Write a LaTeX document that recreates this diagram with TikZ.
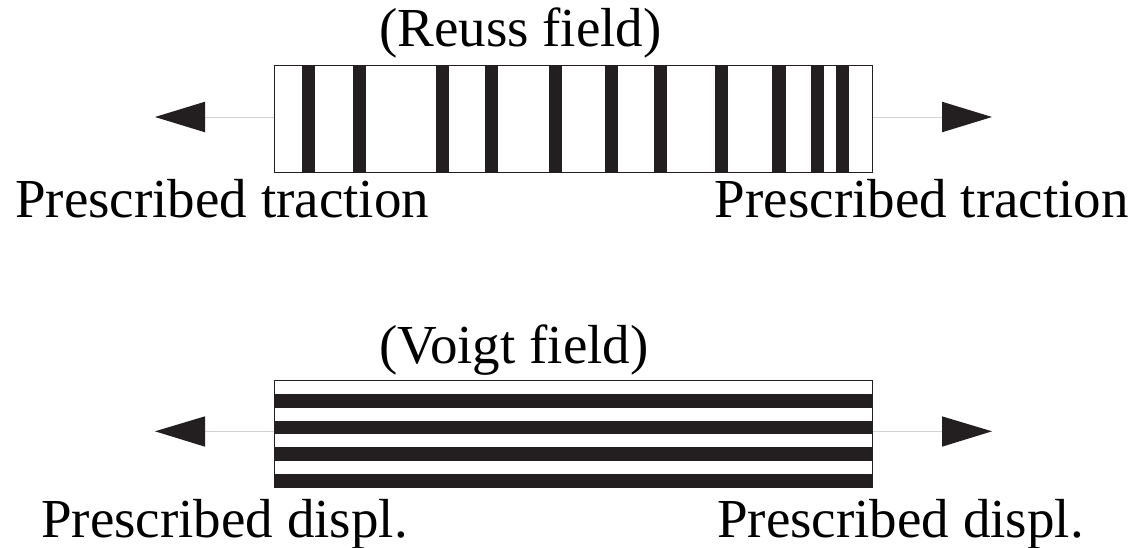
\documentclass[tikz,border=0pt]{standalone}
\usepackage{fontspec}
\setmainfont{Liberation Serif}
\definecolor{ink}{HTML}{231F20}
\definecolor{lightline}{HTML}{D2D2D2}
\begin{document}
\begin{tikzpicture}[x=1pt,y=-1pt,
  lab/.style={font=\fontsize{55}{60}\selectfont, inner sep=0pt},
  bar/.style={fill=ink, draw=none},
  frame/.style={draw=ink, line width=1.2pt, inner sep=0pt, minimum width=598.4pt, minimum height=106.6pt},
  link/.style={draw=lightline, line width=0.8pt},
  head/.style={fill=ink, draw=none}]
\useasboundingbox (0,0) rectangle (1135,547);
% ---------- Reuss ----------
\foreach \a/\b in {301.7/315, 352.7/366, 436/449.3, 485/498.3, 549/562.3, 605/618.3, 654/667.3, 715/728.3, 772.3/785.7, 811/824.3, 836/849.3}
  \path[bar] (\a,66) rectangle (\b,172.3);
\node[frame] (reuss) at (573.5,119.15) {};
\coordinate (rl) at (205,117);
\coordinate (rr) at (942,117);
\draw[link] (reuss.west |- rl) -- (rl);
\draw[link] (reuss.east |- rr) -- (rr);
\path[head] (155,117) -- (205,101.7) -- (205,132.3) -- cycle;
\path[head] (992,117) -- (942,101.7) -- (942,132.3) -- cycle;
\node[lab, anchor=base west] (rt) at (379,46.7) {(Reuss field)};
\node[lab, anchor=base west] (rtl) at (15,217) {Prescribed traction};
\node[lab, anchor=base east] (rtr) at (1129,217) {Prescribed traction};
% ---------- Voigt ----------
\foreach \a/\b in {394.3/407.7, 421/434.3, 447.3/460.7, 474/487.3}
  \path[bar] (274.3,\a) rectangle (872.7,\b);
\node[frame] (voigt) at (573.5,434) {};
\coordinate (vl) at (205,431.3);
\coordinate (vr) at (942,431.3);
\draw[link] (voigt.west |- vl) -- (vl);
\draw[link] (voigt.east |- vr) -- (vr);
\path[head] (155,431.3) -- (205,416.3) -- (205,446.7) -- cycle;
\path[head] (992,431.3) -- (942,416.3) -- (942,446.7) -- cycle;
\node[lab, anchor=base west] (vt) at (379,363) {(Voigt field)};
\node[lab, anchor=base west] (vtl) at (41,537) {Prescribed displ.};
\node[lab, anchor=base west] (vtr) at (717,537) {Prescribed displ.};
\end{tikzpicture}
\end{document}
